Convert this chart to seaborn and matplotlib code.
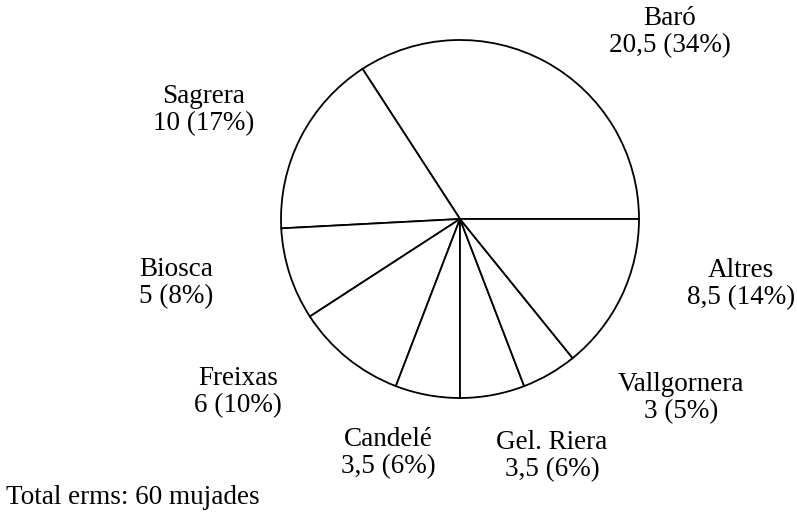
import matplotlib
matplotlib.use("Agg")
import matplotlib.pyplot as plt
import seaborn as sns

# data (erms per owner)
names = ["Baró", "Sagrera", "Biosca", "Freixas", "Candelé", "Gel. Riera", "Vallgornera", "Altres"]
values = [20.5, 10, 5, 6, 3.5, 3.5, 3, 8.5]
total_text = "Total erms: 60 mujades"

sns.set_theme(style="white")
plt.rcParams["font.family"] = ["Liberation Serif", "DejaVu Serif"]

W, H = 797, 523
fig = plt.figure(figsize=(W / 100, H / 100), dpi=100)
ax = fig.add_axes([0, 0, 1, 1])

# pie centre and radius in pixel units (y counted from the top of the image)
cx, cy, r = 460, 219, 179
ax.pie(values, startangle=0, counterclock=True, center=(cx, H - cy), radius=r,
       colors=["white"] * len(values),
       wedgeprops=dict(edgecolor="black", linewidth=1.3))
ax.set_xlim(0, W)
ax.set_ylim(0, H)
ax.set_aspect("equal")
ax.axis("off")

# label block centres (pixels from the top left)
label_pos = [(670, 32), (204, 110), (176, 283), (238, 392),
             (388, 453), (552, 456), (681, 398), (741, 284)]

total = sum(values)
for name, v, (x, y) in zip(names, values, label_pos):
    pct = round(100 * v / total)
    val = f"{v:g}".replace(".", ",")
    ax.text(x, H - y, f"{name}\n{val} ({pct}%)", ha="center", va="center",
            fontsize=19.5, linespacing=1.1, color="black")

ax.text(6, H - 504, total_text, ha="left", va="baseline", fontsize=19.5, color="black")

fig.savefig("out.png", dpi=100, facecolor="white")
